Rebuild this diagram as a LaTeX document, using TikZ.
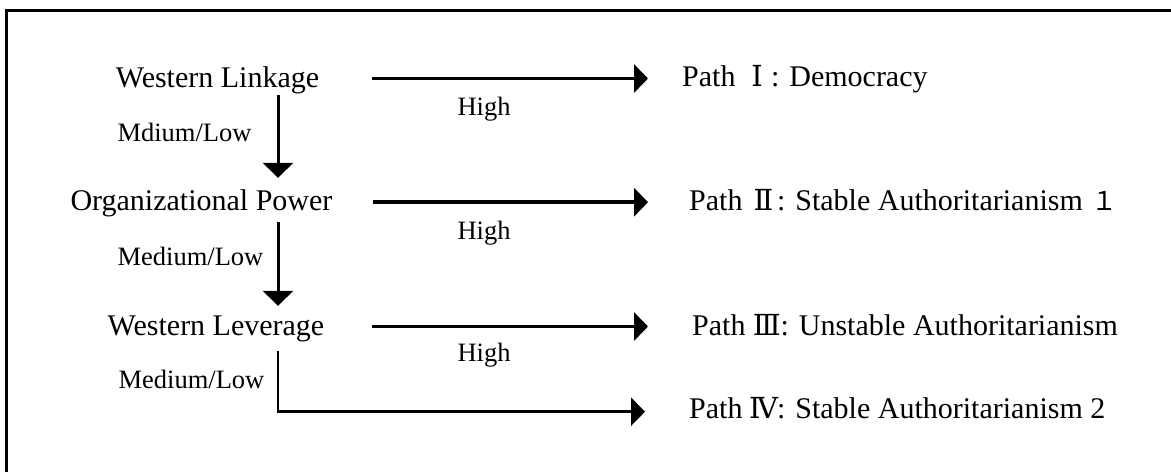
\documentclass[tikz,border=0pt]{standalone}
\usepackage{fontspec}
\setmainfont{Liberation Serif}
\newfontfamily\rnfont{DejaVu Serif}
\newfontfamily\cjkfont{Noto Sans CJK SC}
\usetikzlibrary{arrows.meta}
\tikzset{
  big/.style={font=\fontsize{30}{36}\selectfont, inner sep=0pt, text height=21pt, text depth=7pt},
  small/.style={font=\fontsize{26.5}{32}\selectfont, inner sep=0pt},
  pathlbl/.style={big, anchor=base west},
  harrow/.style={line width=3.8pt, -{Triangle[length=14pt,width=28pt]}},
  varrow/.style={line width=3pt, -{Triangle[length=15pt,width=30pt]}},
  barrow/.style={line width=2.8pt, -{Triangle[length=14pt,width=28pt]}},
  frameline/.style={line width=3pt}
}
\newcommand{\rnum}[2]{\makebox[#1][c]{\rnfont\fontsize{29}{32}\selectfont #2}}
\begin{document}
\begin{tikzpicture}[x=1pt,y=-1pt]
\useasboundingbox (0,0) rectangle (1171,472);
\draw[frameline] (6.5,472) -- (6.5,10) -- (1171,10);

\coordinate (vx) at (278,0);

\node[big, anchor=base] (wl) at (217.5,87) {Western Linkage};
\node[big, anchor=base] (op) at (201.5,210.7) {Organizational Power};
\node[big, anchor=base] (wv) at (216,335) {Western Leverage};

\node[pathlbl] (p1) at (682,86.7) {Path \rnum{28pt}{Ⅰ}: Democracy};
\node[pathlbl] (p2) at (689,210) {Path \rnum{27pt}{Ⅱ}: Stable Authoritarianism \makebox[28pt]{\cjkfont\fontsize{26}{30}\selectfont １}};
\node[pathlbl] (p3) at (692,335) {Path \rnum{27.5pt}{Ⅲ}: Unstable Authoritarianism};
\node[pathlbl] (p4) at (689,418) {Path \rnum{27pt}{Ⅳ}: Stable Authoritarianism 2};

\node[small, anchor=base] (h1) at (484,115) {High};
\node[small, anchor=base] (h2) at (484,239.4) {High};
\node[small, anchor=base] (h3) at (484,361.7) {High};
\node[small, anchor=base] (m1) at (184.5,141) {Mdium/Low};
\node[small, anchor=base] (m2) at (190.5,265) {Medium/Low};
\node[small, anchor=base] (m3) at (191.5,388) {Medium/Low};

\draw[harrow, shorten <=53pt, shorten >=34pt] ([yshift=8.5pt]wl.base east) -- ([yshift=8.5pt]wl.base east -| p1.west);
\draw[harrow, shorten <=40.3pt, shorten >=41pt] ([yshift=8.5pt]op.base east) -- ([yshift=8.5pt]op.base east -| p2.west);
\draw[harrow, shorten <=47.5pt, shorten >=44pt] ([yshift=8.5pt]wv.base east) -- ([yshift=8.5pt]wv.base east -| p3.west);

\draw[varrow, shorten <=1pt, shorten >=11.7pt] (wl.south -| vx) -- (op.north -| vx);
\draw[varrow, shorten <=4.3pt, shorten >=8pt] (op.south -| vx) -- (wv.north -| vx);
\draw[barrow, shorten <=8.7pt, shorten >=44pt] (wv.south -| vx) |- ([yshift=6.3pt]p4.base west);
\end{tikzpicture}
\end{document}
